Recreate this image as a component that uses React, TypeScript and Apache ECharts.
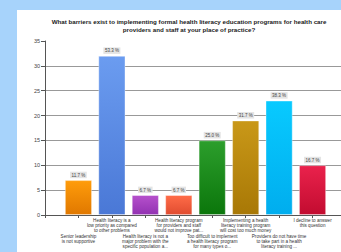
import React, { useEffect, useRef } from 'react';
import * as echarts from 'echarts';

const titleLines = [
  'What barriers exist to implementing formal health literacy education programs for health care',
  'providers and staff at your place of practice?',
];

const categories = [
  'Senior leadership\nis not supportive',
  'Health literacy is a\nlow priority as compared\nto other problems',
  'Health literacy is not a\nmajor problem with the\nspecific population a...',
  'Health literacy program\nfor providers and staff\nwould not improve pat...',
  'Too difficult to implement\na health literacy program\nfor many types o...',
  'Implementing a health\nliteracy training program\nwill cost too much money',
  'Providers do not have time\nto take part in a health\nliteracy training ...',
  'I decline to answer\nthis question',
];

const counts = [7, 32, 4, 4, 15, 19, 23, 10];
const percents = [11.7, 53.3, 6.7, 6.7, 25.0, 31.7, 38.3, 16.7];

const yMin = 0;
const yMax = 35;
const yInterval = 5;

const barColors: [string, string][] = [
  ['#ff9c0a', '#e07800'],
  ['#6b9cf0', '#4a78d6'],
  ['#b650cc', '#9232b2'],
  ['#ff6c48', '#e04c30'],
  ['#2c9e2c', '#0b760b'],
  ['#c99818', '#a87806'],
  ['#08caff', '#00adee'],
  ['#ea224c', '#c20c30'],
];

export default function App() {
  const ref = useRef<HTMLDivElement>(null);

  useEffect(() => {
    if (!ref.current) return;
    const chart = echarts.init(ref.current, null, { renderer: 'svg' });

    const axisCats = ['', ...categories, ''];
    const data: any[] = [
      '-',
      ...counts.map((v, i) => ({
        value: v,
        itemStyle: {
          color: new echarts.graphic.LinearGradient(0, 0, 0, 1, [
            { offset: 0, color: barColors[i][0] },
            { offset: 1, color: barColors[i][1] },
          ]),
        },
      })),
      '-',
    ];

    chart.setOption({
      animation: false,
      backgroundColor: '#ffffff',
      textStyle: { fontFamily: 'Liberation Sans, Arial, sans-serif' },
      graphic: [
        {
          type: 'text',
          x: 172,
          y: 8,
          style: {
            text: titleLines.join('\n'),
            align: 'center',
            verticalAlign: 'top',
            fontSize: 6.2,
            lineHeight: 7.6,
            fontWeight: 'bold',
            fill: '#1a1a1a',
            fontFamily: 'Liberation Sans, Arial, sans-serif',
          },
        },
      ],
      grid: { left: 28, top: 31, right: 1, bottom: 37, containLabel: false },
      xAxis: {
        type: 'category',
        data: axisCats,
        boundaryGap: false,
        axisLine: { lineStyle: { color: '#555', width: 1 } },
        axisTick: { show: true, length: 3, interval: 0, lineStyle: { color: '#555' } },
        axisLabel: {
          interval: 0,
          margin: 3,
          color: '#333',
          fontSize: 4.6,
          lineHeight: 4.8,
          formatter: (value: string, index: number) => {
            if (!value) return '';
            const lines = value
              .split('\n')
              .map((l) => `{t|${l}}`)
              .join('\n');
            return index % 2 === 1 ? `{sp| }\n${lines}` : lines;
          },
          rich: {
            t: { fontSize: 4.6, lineHeight: 4.8, color: '#333', align: 'center' },
            sp: { fontSize: 4, lineHeight: 16 },
          },
        },
        splitLine: { show: false },
      },
      yAxis: {
        type: 'value',
        min: yMin,
        max: yMax,
        interval: yInterval,
        axisLine: { show: true, lineStyle: { color: '#555', width: 1 } },
        axisTick: { show: true, length: 4, lineStyle: { color: '#555' } },
        axisLabel: { color: '#444', fontSize: 5.5, margin: 5 },
        splitLine: { show: true, showMaxLine: false, lineStyle: { color: '#999', width: 1 } },
      },
      series: [
        {
          type: 'bar',
          data,
          barWidth: 27,
          itemStyle: { borderColor: 'rgba(255,255,255,0.45)', borderWidth: 0.8 },
          label: {
            show: true,
            position: 'top',
            distance: 2,
            fontSize: 4.5,
            color: '#444',
            backgroundColor: '#e4e4e4',
            padding: [1, 1.5, 0.5, 1.5],
            formatter: (p: any) => `${percents[p.dataIndex - 1].toFixed(1)} %`,
          },
        },
      ],
    });

    return () => chart.dispose();
  }, []);

  return (
    <div
      style={{
        position: 'fixed',
        left: 0,
        top: 0,
        width: 341,
        height: 252,
        overflow: 'hidden',
        background: '#a7d3fb',
      }}
    >
      <div
        ref={ref}
        style={{ position: 'absolute', left: 17, top: 10, width: 332, height: 242 }}
      />
    </div>
  );
}
